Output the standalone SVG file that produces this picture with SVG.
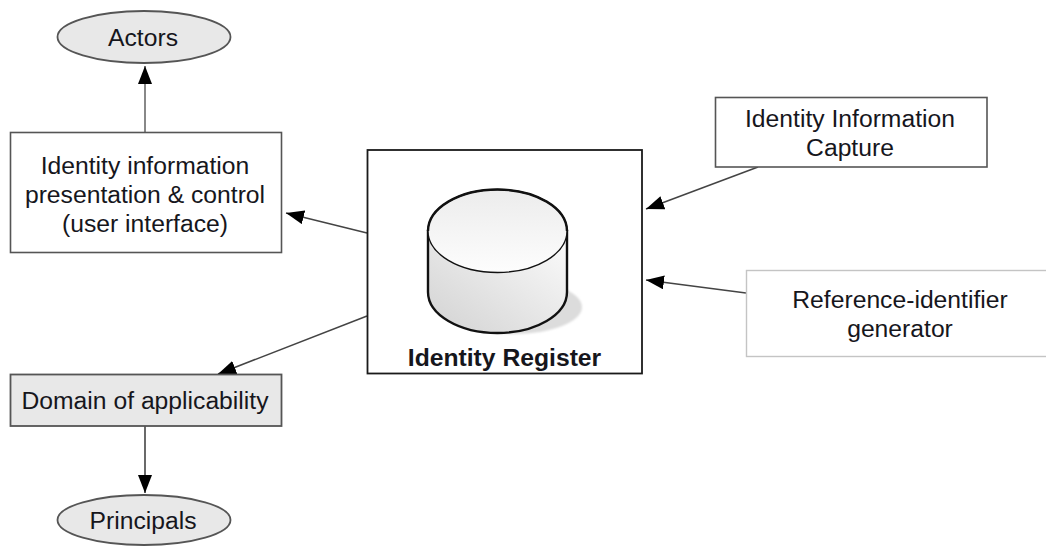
<svg xmlns="http://www.w3.org/2000/svg" width="1046" height="546" viewBox="0 0 1046 546">
  <style>
    text { font-family: "Liberation Sans", Arial, sans-serif; font-size: 24.7px; fill: #16161c; text-anchor: middle; }
    .box { fill: #fff; stroke: #555; stroke-width: 1.6; }
    .grey { fill: #e8e8e8; stroke: #555; stroke-width: 1.8; }
    .conn { fill: none; stroke: #444; stroke-width: 1.6; marker-end: url(#arrow); }
  </style>
  <defs>
    <marker id="arrow" markerUnits="userSpaceOnUse" markerWidth="20" markerHeight="16" refX="18" refY="7" orient="auto">
      <path d="M0,0 L18,7 L0,14 Z" fill="#000"/>
    </marker>
    <linearGradient id="side" x1="0" y1="1" x2="1" y2="0">
      <stop offset="0" stop-color="#d2d2d2"/>
      <stop offset="1" stop-color="#fcfcfc"/>
    </linearGradient>
    <linearGradient id="top" x1="0" y1="0" x2="0" y2="1">
      <stop offset="0" stop-color="#ececec"/>
      <stop offset="1" stop-color="#fdfdfd"/>
    </linearGradient>
    <filter id="blur" x="-10%" y="-10%" width="120%" height="120%"><feGaussianBlur stdDeviation="1"/></filter>
  </defs>
  <rect width="1046" height="546" fill="#fff"/>
  <g id="connectors">
    <path class="conn" style="stroke:#888;stroke-width:2" d="M145,132 L145,66"/>
    <path class="conn" d="M367,233 L286,213"/>
    <path class="conn" d="M367,316 L218,374"/>
    <path class="conn" d="M145,426 L145,493"/>
    <path class="conn" d="M758,167 L646,209"/>
    <path class="conn" d="M746,293 L646,280"/>
  </g>
  <g id="actors">
    <ellipse class="grey" cx="144" cy="37" rx="86.500" ry="26"/>
    <text x="143" y="46">Actors</text>
  </g>
  <g id="presentation">
    <rect class="box" x="10.500" y="132.500" width="271" height="120"/>
    <text x="145" y="174">Identity information</text>
    <text x="145" y="203">presentation &amp; control</text>
    <text x="145" y="232">(user interface)</text>
  </g>
  <g id="domain">
    <rect class="grey" x="10.500" y="374.500" width="271" height="51.500"/>
    <text x="145" y="409">Domain of applicability</text>
  </g>
  <g id="principals">
    <ellipse class="grey" cx="144" cy="520" rx="86.500" ry="25"/>
    <text x="143" y="529">Principals</text>
  </g>
  <g id="register">
    <rect x="367.500" y="150" width="274.500" height="223.500" fill="#fff" stroke="#1a1a1a" stroke-width="1.800"/>
    <ellipse cx="514" cy="307" rx="68" ry="27" fill="#dcdcdc" filter="url(#blur)"/>
    <path d="M428,231 V292 A69.500,41 0 0 0 567,292 V231 Z" fill="url(#side)" stroke="#111" stroke-width="2.400"/>
    <ellipse cx="497.500" cy="231" rx="69.500" ry="41.500" fill="url(#top)" stroke="#111" stroke-width="1.400"/>
    <path d="M428,231 A69.500,41.500 0 0 1 567,231" fill="none" stroke="#111" stroke-width="2.400"/>
    <text x="504.500" y="366" style="font-weight:700">Identity Register</text>
  </g>
  <g id="capture">
    <rect class="box" x="715.500" y="97.500" width="271.500" height="69.500"/>
    <text x="850" y="127">Identity Information</text>
    <text x="850" y="156">Capture</text>
  </g>
  <g id="generator">
    <rect x="746.500" y="270.500" width="310" height="86" fill="#fff" stroke="#c4c4c4" stroke-width="1.400"/>
    <text x="900" y="308">Reference-identifier</text>
    <text x="900" y="337">generator</text>
  </g>
</svg>
